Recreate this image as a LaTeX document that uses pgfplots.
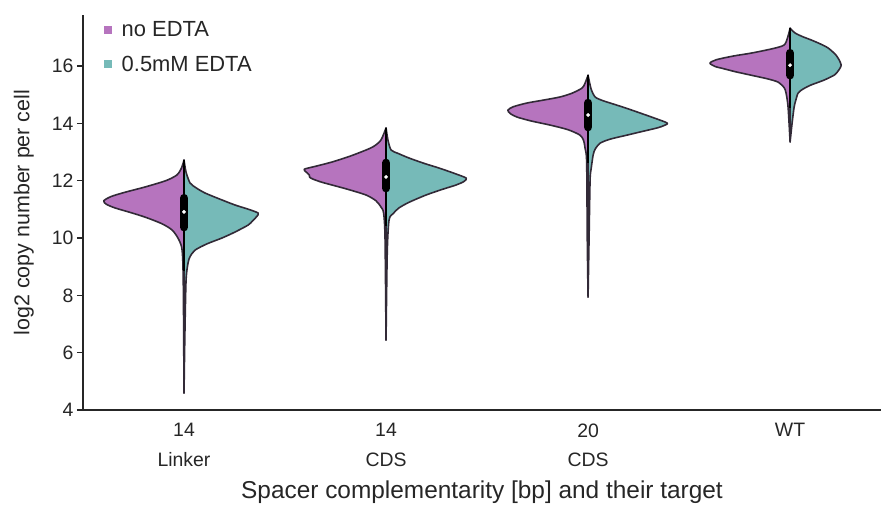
\documentclass[border=0pt]{standalone}
\usepackage{fontspec}
\setmainfont{Liberation Sans}
\usepackage{pgfplots}
\usepackage{pgfplotstable}
\pgfplotsset{compat=1.18}
\definecolor{vpurple}{RGB}{182,116,190}
\definecolor{vteal}{RGB}{118,186,184}
\definecolor{vline}{RGB}{50,42,55}

% half-violin outlines: y value, half width (in category units)
\pgfplotstableread{
y w
12.72 0.000
12.45 0.012
12.20 0.035
12.00 0.090
11.78 0.193
11.60 0.290
11.45 0.360
11.30 0.397
11.18 0.385
11.05 0.342
10.90 0.270
10.73 0.193
10.50 0.110
10.28 0.059
10.00 0.030
9.69 0.012
9.20 0.006
8.00 0.003
4.59 0.000
}\pA
\pgfplotstableread{
y w
12.72 0.000
12.30 0.010
11.92 0.030
11.75 0.060
11.57 0.104
11.35 0.180
11.15 0.253
11.00 0.320
10.87 0.367
10.75 0.360
10.60 0.340
10.45 0.317
10.20 0.250
10.00 0.188
9.80 0.115
9.58 0.055
9.35 0.030
9.13 0.020
8.50 0.010
6.50 0.004
4.59 0.000
}\tA
\pgfplotstableread{
y w
13.84 0.000
13.42 0.025
13.20 0.060
13.07 0.099
12.85 0.180
12.65 0.268
12.50 0.350
12.40 0.405
12.30 0.395
12.20 0.380
12.12 0.378
12.05 0.360
11.95 0.320
11.85 0.268
11.70 0.190
11.50 0.099
11.30 0.050
11.08 0.025
10.87 0.012
10.00 0.005
6.44 0.000
}\pB
\pgfplotstableread{
y w
13.84 0.000
13.40 0.010
13.07 0.025
12.95 0.060
12.79 0.114
12.60 0.190
12.44 0.263
12.25 0.340
12.09 0.397
11.97 0.385
11.85 0.347
11.70 0.280
11.50 0.198
11.25 0.115
11.05 0.064
10.85 0.035
10.63 0.015
9.50 0.006
6.44 0.000
}\tB
\pgfplotstableread{
y w
15.68 0.000
15.40 0.015
15.23 0.030
15.05 0.080
14.92 0.139
14.80 0.230
14.71 0.302
14.58 0.370
14.46 0.397
14.34 0.385
14.22 0.352
14.08 0.280
13.94 0.188
13.78 0.100
13.59 0.040
13.40 0.022
13.14 0.015
12.65 0.007
10.00 0.004
7.94 0.000
}\pC
\pgfplotstableread{
y w
15.68 0.000
15.20 0.015
14.92 0.035
14.80 0.070
14.71 0.109
14.55 0.180
14.36 0.258
14.18 0.330
14.01 0.392
13.92 0.375
13.84 0.342
13.72 0.270
13.59 0.193
13.45 0.110
13.31 0.060
13.10 0.035
12.89 0.025
12.40 0.015
12.02 0.010
10.00 0.005
7.94 0.000
}\tC
\pgfplotstableread{
y w
17.32 0.000
17.00 0.012
16.73 0.030
16.60 0.090
16.45 0.193
16.35 0.280
16.22 0.365
16.10 0.397
15.98 0.370
15.93 0.342
15.80 0.270
15.68 0.193
15.55 0.110
15.44 0.060
15.25 0.030
15.06 0.020
14.57 0.010
13.35 0.000
}\pD
\pgfplotstableread{
y w
17.32 0.000
17.15 0.025
17.03 0.060
16.91 0.104
16.77 0.150
16.63 0.188
16.40 0.225
16.21 0.243
16.03 0.253
15.90 0.245
15.80 0.235
15.68 0.218
15.50 0.165
15.34 0.104
15.20 0.065
15.06 0.040
14.80 0.028
14.57 0.020
14.01 0.010
13.35 0.000
}\tD

\newcommand{\halfviolin}[4]{% #1 center, #2 sign, #3 table, #4 colour
  \addplot[forget plot, fill=#4, draw=vline, line width=1.6bp, line join=round, smooth, tension=0.45]
    table[x expr={#1+#2*\thisrow{w}}, y=y] {#3} -- cycle;
}
\newcommand{\innerbox}[6]{% center, whisker low, q1, median, q3, whisker high
  \addplot[forget plot, black, line width=1.4bp] coordinates {(#1,#2) (#1,#6)};
  \addplot[forget plot, black, line width=8.5bp, line cap=round] coordinates {(#1,#3) (#1,#5)};
  \addplot[forget plot, only marks, mark=*, mark size=1.7bp, white, mark options={draw=white, fill=white}] coordinates {(#1,#4)};
}

\begin{document}
\begin{tikzpicture}
\useasboundingbox (-83bp,-102bp) rectangle (798bp,410bp);
\begin{axis}[
  scale only axis, width=798bp, height=395bp,
  xmin=-0.5, xmax=3.45, ymin=4, ymax=17.78,
  axis x line*=bottom, axis y line*=left,
  axis line style={line width=1.4bp, black!85, -},
  xtick={0,1,2,3},
  xticklabels={{14\\Linker},{14\\CDS},{20\\CDS},{WT}},
  xticklabel style={align=center, font=\fontsize{19.5}{30}\selectfont, text=black!85, yshift=-4bp},
  xtick style={draw=none},
  ytick={4,6,...,16},
  yticklabel style={font=\fontsize{19.5}{22}\selectfont, text=black!85},
  ytick style={line width=1.2bp, black!85},
  tick align=outside, major tick length=6bp,
  /pgf/number format/assume math mode=true,
  xlabel={Spacer complementarity [bp] and their target},
  ylabel={log2 copy number per cell},
  xlabel style={font=\fontsize{24.5}{28}\selectfont, text=black!85, at={(axis description cs:0.5,-0.2253)}, anchor=base},
  ylabel style={font=\fontsize{21.5}{26}\selectfont, text=black!85, at={(axis description cs:-0.074,0.5)}, anchor=center},
  legend style={at={(axis description cs:0.022,0.995)}, anchor=north west, draw=none, fill=none,
    font=\fontsize{22}{25}\selectfont, text=black!85, row sep=14bp,
    /tikz/every odd column/.append style={column sep=9bp}},
  legend cell align=left,
  clip=false,
]
\addlegendimage{only marks, mark=square*, mark size=3.5bp, color=vpurple}
\addlegendentry{no EDTA}
\addlegendimage{only marks, mark=square*, mark size=3.5bp, color=vteal}
\addlegendentry{0.5mM EDTA}

\halfviolin{0}{-1}{\pA}{vpurple}
\halfviolin{0}{1}{\tA}{vteal}
\innerbox{0}{8.86}{10.38}{10.91}{11.39}{12.72}

\halfviolin{1}{-1}{\pB}{vpurple}
\halfviolin{1}{1}{\tB}{vteal}
\innerbox{1}{10.42}{11.74}{12.13}{12.62}{13.84}

\halfviolin{2}{-1}{\pC}{vpurple}
\halfviolin{2}{1}{\tC}{vteal}
\innerbox{2}{12.61}{13.87}{14.29}{14.71}{15.68}

\halfviolin{3}{-1}{\pD}{vpurple}
\halfviolin{3}{1}{\tD}{vteal}
\innerbox{3}{14.53}{15.68}{16.03}{16.45}{17.32}
\end{axis}
\end{tikzpicture}
\end{document}
